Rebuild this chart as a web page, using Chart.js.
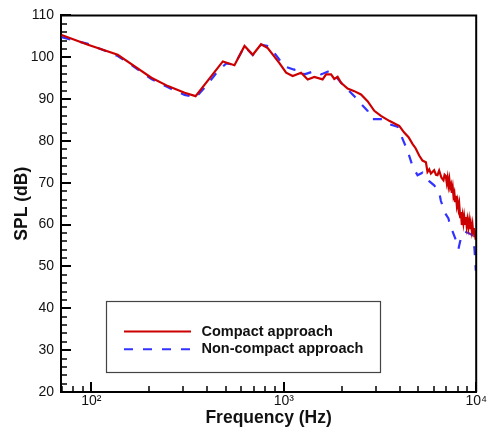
<!DOCTYPE html>
<html><head><meta charset="utf-8">
<script src="https://cdn.jsdelivr.net/npm/chart.js@4/dist/chart.umd.min.js"></script>
<style>html,body{margin:0;padding:0;background:#fff}</style>
</head><body>
<canvas id="c" width="488" height="430"></canvas>
<script>
// ---- data ----
const compactFreq = [70,96,137,168,205,250,305,348,482,554,625,690,762,825,949,1028,1112,1230,1331,1441,1591,1658,1760,1830,1904,1984,2146,2325,2518,2725,2953,3198,3532,3826,3980,4225,4450,4666,4850,5054,5258,5477,5583,5700,5813,6046,6180,6289,6419,6600,6758,6850,6950,7030,7100,7172,7250,7320,7400,7472,7550,7620,7700,7770,7850,7930,8000,8088,8160,8253,8330,8422,8500,8580,8660,8761,8840,8920,9000,9110,9190,9280,9370,9489,9570,9650,9720,9788,9860,9930,10000];
const compactSPL  = [105.3,103.0,100.6,97.8,95.1,93.1,91.5,90.7,99.0,98.1,102.7,100.6,103.1,102.2,98.6,96.3,95.5,96.3,94.7,95.3,94.7,95.9,95.9,94.8,95.3,93.9,92.5,91.9,91.1,89.5,87.2,86.0,84.8,84.0,83.6,82.0,80.9,79.3,78.2,76.5,75.3,74.9,72.6,73.2,72.2,73.0,71.9,71.8,72.9,71.2,70.6,71.9,71.6,70.0,71.2,69.4,70.8,68.9,69.6,67.6,68.9,66.8,67.6,65.6,66.9,64.6,65.6,63.8,64.9,61.8,63.0,59.9,61.9,60.4,62.0,60.2,61.8,59.8,61.2,59.4,60.9,58.9,60.4,58.5,59.8,57.9,59.2,57.0,58.6,56.4,57.3];
const nonCompactFreq = [70,96,137,168,205,250,305,348,395,454,502,554,625,690,762,842,949,1007,1135,1181,1279,1441,1562,1725,1830,1984,2146,2325,2468,2725,2838,3260,3532,3899,4141,4395,4666,4953,5258,5697,6046,6419,6550,6900,7172,7383,7550,7770,8088,8253,8422,8761,9110,9489,9788,9952];
const nonCompactSPL  = [104.8,103.2,100.3,97.6,94.8,92.8,91.0,90.4,93.1,96.7,98.5,98.2,102.6,100.5,103.0,102.6,99.4,97.8,97.0,97.4,95.9,96.7,95.9,96.7,95.9,93.9,92.3,90.7,89.3,87.2,85.2,85.2,84.0,83.4,80.5,77.7,74.0,71.8,72.4,70.4,69.4,67.8,65.7,62.7,61.5,59.1,58.3,56.8,54.2,56.0,57.6,58.3,58.0,57.6,54.4,49.0];
const seriesNames = ['Compact approach', 'Non-compact approach'];
const decadeLabels = {100: '10\u00B2', 1000: '10\u00B3', 10000: '10\u2074'};
const xRange = [69.5, 10000];
const yRange = [20, 110];
const yStep = 10;
const yMinorStep = 2;

const toPoints = (xs, ys) => xs.map((x, i) => ({x: x, y: ys[i]}));
const FONT = '"Liberation Sans", Arial, Helvetica, sans-serif';
Chart.defaults.font.family = FONT;

const frame = {
  id: 'frame',
  afterDatasetsDraw(chart) {
    const {ctx, chartArea: a, scales: {x, y}} = chart;
    ctx.save();
    ctx.strokeStyle = '#000';
    ctx.lineWidth = 2;
    ctx.beginPath();
    ctx.moveTo(a.left, a.top); ctx.lineTo(a.right, a.top); ctx.lineTo(a.right, a.bottom);
    ctx.stroke();
    for (const dec of [10, 100, 1000, 10000]) {
      for (let m = 1; m <= 9; m++) {
        const v = m * dec;
        if (v < x.min || v > x.max) continue;
        const px = Math.round(x.getPixelForValue(v));
        const major = m === 1;
        ctx.lineWidth = major ? 2 : 1.5;
        ctx.beginPath();
        ctx.moveTo(px, a.bottom);
        ctx.lineTo(px, a.bottom - (major ? 10 : 6));
        ctx.stroke();
      }
    }
    for (let v = yRange[0]; v <= yRange[1]; v += yMinorStep) {
      const py = Math.round(y.getPixelForValue(v));
      const major = v % yStep === 0;
      ctx.lineWidth = major ? 2 : 1.5;
      ctx.beginPath();
      ctx.moveTo(a.left, py);
      ctx.lineTo(a.left + (major ? 10 : 6), py);
      ctx.stroke();
    }
    ctx.restore();
  }
};

const legendBox = {
  id: 'legendBox',
  afterDraw(chart) {
    const ctx = chart.ctx;
    ctx.save();
    ctx.fillStyle = '#fff';
    ctx.fillRect(107, 302, 274, 71);
    ctx.strokeStyle = '#444';
    ctx.lineWidth = 1.2;
    ctx.strokeRect(106.5, 301.5, 274, 71);
    chart.data.datasets.forEach((ds, i) => {
      const yy = 331.5 + i * 17.7;
      ctx.strokeStyle = ds.borderColor;
      ctx.lineWidth = 2;
      ctx.setLineDash(ds.borderDash || []);
      ctx.beginPath(); ctx.moveTo(124, yy); ctx.lineTo(191, yy); ctx.stroke();
      ctx.setLineDash([]);
      ctx.fillStyle = '#111';
      ctx.font = 'bold 14.5px ' + FONT;
      ctx.textBaseline = 'middle';
      ctx.textAlign = 'left';
      ctx.fillText(ds.label, 201.5, yy);
    });
    ctx.restore();
  }
};

new Chart(document.getElementById('c'), {
  type: 'line',
  data: {
    datasets: [
      {label: seriesNames[0], data: toPoints(compactFreq, compactSPL), borderColor: '#cc0000', borderWidth: 2.2, pointRadius: 0, tension: 0, fill: false},
      {label: seriesNames[1], data: toPoints(nonCompactFreq, nonCompactSPL), borderColor: '#3333ff', borderWidth: 2.2, borderDash: [9, 10], pointRadius: 0, tension: 0, fill: false}
    ]
  },
  options: {
    responsive: false,
    animation: false,
    devicePixelRatio: 1,
    layout: {padding: {top: 12, right: 11, left: 0, bottom: 0}},
    plugins: {legend: {display: false}, tooltip: {enabled: false}},
    scales: {
      x: {
        type: 'logarithmic', position: 'bottom', min: xRange[0], max: xRange[1],
        grid: {display: false, drawTicks: false},
        border: {display: true, color: '#000', width: 2},
        ticks: {autoSkip: false, maxRotation: 0, padding: 1, color: '#111', font: {size: 14},
          callback: (v) => decadeLabels[Math.round(v)] && Math.abs(Math.log10(v) - Math.round(Math.log10(v))) < 1e-6 ? decadeLabels[Math.round(v)] : ''},
        title: {display: true, text: 'Frequency (Hz)', color: '#111', font: {size: 17.5, weight: 'bold'}, padding: {top: 0, bottom: 1.5}},
        afterFit: (s) => { s.height = 38; }
      },
      y: {
        type: 'linear', min: yRange[0], max: yRange[1],
        grid: {display: false, drawTicks: false},
        border: {display: true, color: '#000', width: 2},
        ticks: {stepSize: yStep, padding: 7, color: '#111', font: {size: 14}},
        title: {display: true, text: 'SPL (dB)', color: '#111', font: {size: 17.5, weight: 'bold'}, padding: {top: 11.5, bottom: 0}},
        afterFit: (s) => { s.width = 61; }
      }
    }
  },
  plugins: [frame, legendBox]
});
</script>
</body></html>
